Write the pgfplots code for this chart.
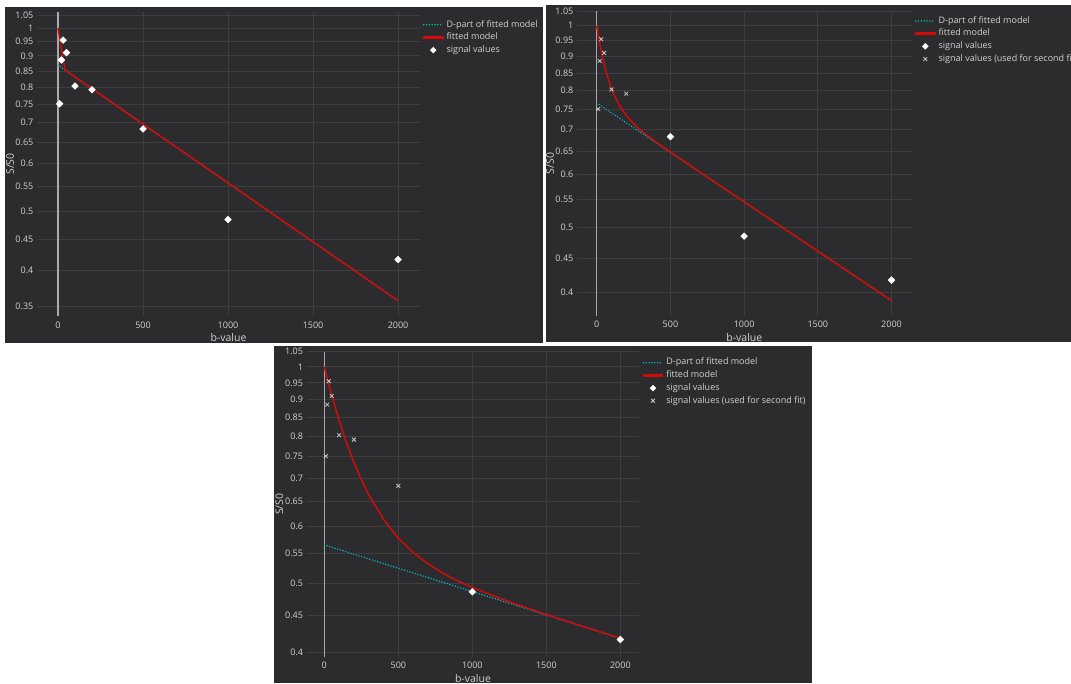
\documentclass[border=0pt]{standalone}
\usepackage{fontspec}
\setmainfont{Open Sans}
\usepackage{pgfplots}
\pgfplotsset{compat=1.18}
\definecolor{bgc}{RGB}{44,44,46}
\definecolor{gridc}{RGB}{62,62,64}
\definecolor{zeroc}{RGB}{170,170,170}
\definecolor{txt}{RGB}{210,210,210}
\definecolor{redc}{RGB}{210,10,10}
\definecolor{cyanc}{RGB}{0,190,200}
\definecolor{xmk}{RGB}{200,200,200}
\newcommand\tickfont{\fontsize{9}{10}\selectfont}
\newcommand\labfont{\fontsize{10.5}{12}\selectfont}
\pgfplotsset{
  panel/.style={
    scale only axis, anchor=south west,
    axis line style={draw=none},
    tick style={draw=none},
    major tick length=0pt,
    grid=major,
    major grid style={gridc, line width=0.8pt},
    xtick={500,1000,1500,2000},
    xticklabels={500,1000,1500,2000},
    extra x ticks={0},
    extra x tick labels={0},
    extra x tick style={grid=major, major grid style={zeroc, line width=1.3pt}},
    ticklabel style={font=\tickfont, text=txt},
    xticklabel style={anchor=center, yshift=-9pt, inner sep=0pt},
    yticklabel style={anchor=east, inner sep=0pt, xshift=-3.5pt},
    xlabel={b-value}, ylabel={S/S0},
    label style={font=\labfont, text=txt},
    xlabel style={at={(axis description cs:0.5,0)}, anchor=center, yshift=-21.5pt},
    ylabel style={anchor=center},
    legend cell align=left,
    legend style={draw=none, fill=none, inner sep=0pt, outer sep=0pt, anchor=north west,
      font=\tickfont, text=txt, row sep=4.2pt, column sep=3pt,
      nodes={inner sep=0pt, text height=6.5pt, text depth=2pt}},
  },
  dleg/.style={legend image code/.code={\draw[color=cyanc, line width=1.6pt, line cap=round, dash pattern=on 0pt off 2.8pt] (0pt,0pt) -- (19pt,0pt);}},
  rleg/.style={legend image code/.code={\fill[redc] (0pt,-0.8pt) rectangle (19pt,0.8pt);}},
  vleg/.style={legend image code/.code={\path[draw=none, fill=none] (0pt,0pt) -- (19pt,0pt); \fill[white, draw=none] (9.5pt,-3.3pt) -- (12.8pt,0pt) -- (9.5pt,3.3pt) -- (6.2pt,0pt) -- cycle;}},
  xleg/.style={legend image code/.code={\path[draw=none, fill=none] (0pt,0pt) -- (19pt,0pt); \draw[xmk, line width=0.8pt, solid] (7.6pt,-1.9pt) -- (11.4pt,1.9pt) (7.6pt,1.9pt) -- (11.4pt,-1.9pt);}},
}
\begin{document}
\begin{tikzpicture}
\useasboundingbox (0,0) rectangle (1071pt,683pt);
\clip (0,0) rectangle (1071pt,683pt);
\fill[white] (0,0) rectangle (1071pt,683pt);
\fill[bgc] (5pt,340pt) rectangle (543pt,676pt);
\fill[bgc] (546pt,341pt) rectangle (1071pt,678pt);
\fill[bgc] (274pt,0pt) rectangle (812pt,337pt);

% Panel 1
\begin{axis}[ymode=log, panel, at={(37pt,367pt)}, width=383pt, height=304pt,
  xmin=-123.5, xmax=2129, ymin=0.337, ymax=1.062,
  ytick={0.35,0.4,0.45,0.5,0.55,0.6,0.65,0.7,0.75,0.8,0.85,0.9,0.95,1,1.05},
  yticklabels={0.35,0.4,0.45,0.5,0.55,0.6,0.65,0.7,0.75,0.8,0.85,0.9,0.95,1,1.05},
  ylabel style={at={(axis description cs:-0.0705,0.5)}},
  legend style={at={(axis description cs:1.0078,0.972)}}]
\addplot[color=cyanc, line width=1.6pt, line cap=round, dash pattern=on 0pt off 2.8pt, dleg] coordinates {(0,0.869) (2000,0.357)};
\addlegendentry{D-part of fitted model}
\addplot[color=redc, line width=1.5pt, rleg] coordinates {(0,1.0) (40.8,0.853) (2000,0.357)};
\addlegendentry{fitted model}
\addplot[only marks, mark=square*, mark size=2.4pt, mark options={rotate=45, fill=white, draw=white}, vleg] coordinates {(10,0.751) (20,0.886) (30,0.955) (50,0.911) (100,0.803) (200,0.792) (500,0.683) (1000,0.485) (2000,0.417)};
\addlegendentry{signal values}
\end{axis}

% Panel 2
\begin{axis}[ymode=log, panel, at={(577pt,367.3pt)}, width=334.7pt, height=304.7pt,
  xmin=-134, xmax=2137, ymin=0.369, ymax=1.052,
  ytick={0.4,0.45,0.5,0.55,0.6,0.65,0.7,0.75,0.8,0.85,0.9,0.95,1,1.05},
  yticklabels={0.4,0.45,0.5,0.55,0.6,0.65,0.7,0.75,0.8,0.85,0.9,0.95,1,1.05},
  ylabel style={at={(axis description cs:-0.0807,0.5)}},
  legend style={at={(axis description cs:1.0099,0.9813)}}]
\addplot[color=cyanc, line width=1.6pt, line cap=round, dash pattern=on 0pt off 2.8pt, dleg] coordinates {(0,0.767) (2000,0.3886)};
\addlegendentry{D-part of fitted model}
\addplot[color=redc, line width=1.5pt, rleg] coordinates {(0,1.0) (10,0.9694) (20,0.9422) (30,0.9179) (40,0.8962) (50,0.8770) (60,0.8596) (80,0.8301) (100,0.8062) (125,0.7821) (150,0.7631) (200,0.7346) (250,0.7140) (300,0.6976) (400,0.6709) (500,0.6475) (700,0.6045) (1000,0.5459) (1500,0.4606) (2000,0.3886)};
\addlegendentry{fitted model}
\addplot[only marks, mark=square*, mark size=2.4pt, mark options={rotate=45, fill=white, draw=white}, vleg] coordinates {(500,0.683) (1000,0.485) (2000,0.417)};
\addlegendentry{signal values}
\addplot[only marks, mark=x, mark size=2.7pt, mark options={xmk, line width=0.8pt}, xleg] coordinates {(10,0.751) (20,0.886) (30,0.955) (50,0.911) (100,0.803) (200,0.792)};
\addlegendentry{signal values (used for second fit)}
\end{axis}

% Panel 3
\begin{axis}[ymode=log, panel, at={(306.7pt,26.3pt)}, width=332.6pt, height=305pt,
  xmin=-119, xmax=2128, ymin=0.3947, ymax=1.050,
  ytick={0.4,0.45,0.5,0.55,0.6,0.65,0.7,0.75,0.8,0.85,0.9,0.95,1,1.05},
  yticklabels={0.4,0.45,0.5,0.55,0.6,0.65,0.7,0.75,0.8,0.85,0.9,0.95,1,1.05},
  ylabel style={at={(axis description cs:-0.0824,0.5)}},
  legend style={at={(axis description cs:1.0102,0.978)}}]
\addplot[color=cyanc, line width=1.6pt, line cap=round, dash pattern=on 0pt off 2.8pt, dleg] coordinates {(0,0.565) (2000,0.4186)};
\addlegendentry{D-part of fitted model}
\addplot[color=redc, line width=1.5pt, rleg] coordinates {(0,1.0) (25,0.9545) (50,0.9134) (75,0.8762) (100,0.8424) (150,0.7841) (200,0.7361) (250,0.6964) (300,0.6635) (400,0.6132) (500,0.5775) (600,0.5514) (700,0.5317) (800,0.5162) (900,0.5035) (1000,0.4928) (1200,0.4747) (1400,0.4592) (1600,0.4449) (1800,0.4315) (2000,0.4187)};
\addlegendentry{fitted model}
\addplot[only marks, mark=square*, mark size=2.4pt, mark options={rotate=45, fill=white, draw=white}, vleg] coordinates {(1000,0.486) (2000,0.417)};
\addlegendentry{signal values}
\addplot[only marks, mark=x, mark size=2.7pt, mark options={xmk, line width=0.8pt}, xleg] coordinates {(10,0.751) (20,0.886) (30,0.955) (50,0.911) (100,0.803) (200,0.792) (500,0.683)};
\addlegendentry{signal values (used for second fit)}
\end{axis}
\end{tikzpicture}
\end{document}
